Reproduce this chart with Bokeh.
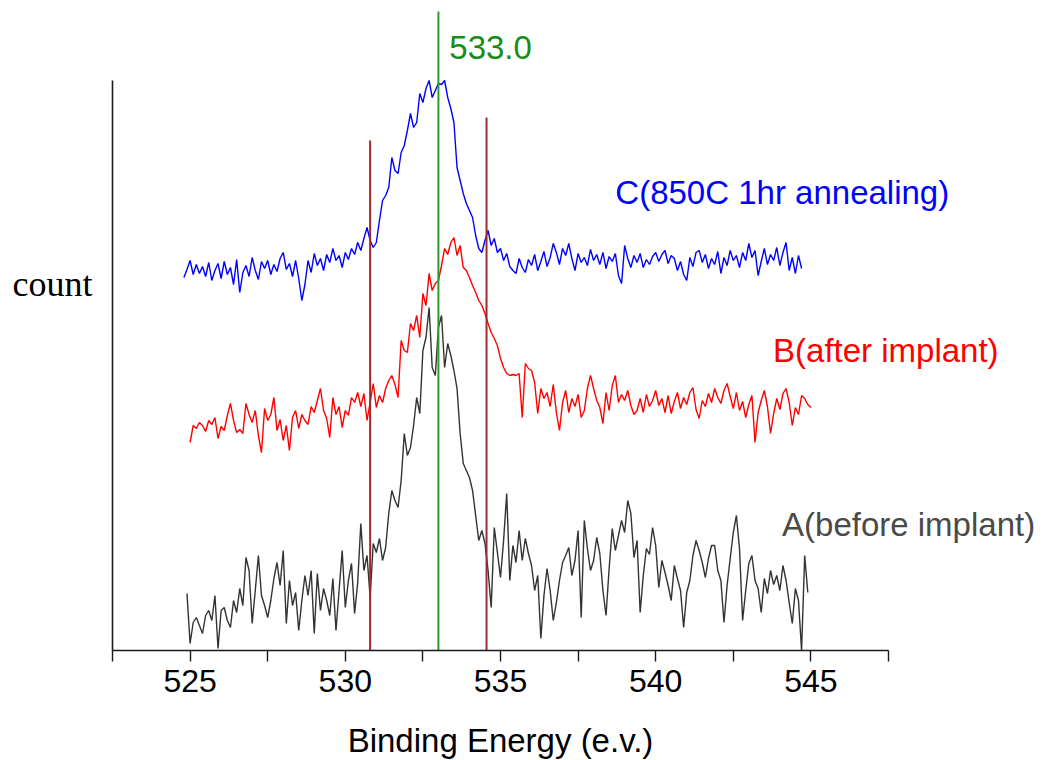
import numpy as np
from bokeh.plotting import figure
from bokeh.models import Range1d, FixedTicker, Label
from bokeh.embed import file_html
from bokeh.resources import INLINE

# O 1s spectra, stacked, intensity in arbitrary counts; 0.1 eV step
step = 0.1

# C: after 850C 1hr annealing (starts at 524.8 eV)
c_start = 524.8
c_counts = [
    373, 381, 390, 376, 386, 377, 384, 374, 388, 370,
    380, 387, 372, 389, 376, 383, 366, 391, 358, 378,
    385, 374, 393, 380, 371, 389, 382, 390, 376, 386,
    379, 392, 398, 381, 387, 374, 390, 372, 350, 366,
    390, 378, 397, 385, 392, 380, 396, 388, 402, 390,
    395, 383, 398, 391, 402, 396, 408, 400, 412, 423,
    410, 403, 408, 430, 450, 455, 463, 493, 480, 477,
    498, 505, 520, 537, 523, 528, 557, 548, 562, 570,
    553, 560, 567, 566, 570, 553, 542, 528, 483, 470,
    457, 447, 440, 433, 415, 402, 398, 410, 420, 405,
    412, 398, 402, 390, 397, 384, 380, 377, 392, 383,
    378, 391, 385, 396, 380, 389, 399, 384, 393, 407,
    398, 386, 402, 395, 407, 392, 380, 397, 388, 393,
    385, 401, 390, 396, 386, 398, 382, 394, 389, 397,
    375, 367, 405, 392, 383, 395, 388, 397, 383, 391,
    386, 394, 398, 389, 396, 400, 387, 395, 392, 380,
    389, 376, 370, 393, 384, 398, 400, 388, 396, 382,
    392, 386, 399, 377, 393, 385, 400, 390, 395, 383,
    398, 390, 407, 393, 400, 375, 389, 402, 386, 396,
    390, 403, 385, 398, 408, 380, 393, 377, 395, 382,
]

# B: after implant (starts at 525.0 eV)
b_start = 525.0
b_counts = [
    208, 225, 222, 228, 225, 219, 230, 226, 233, 212,
    224, 220, 235, 247, 230, 218, 221, 217, 247, 236,
    228, 240, 215, 198, 242, 230, 236, 253, 220, 231,
    210, 225, 200, 233, 240, 222, 236, 230, 226, 244,
    238, 250, 262, 240, 232, 213, 253, 236, 244, 223,
    240, 235, 253, 248, 258, 244, 257, 230, 248, 267,
    243, 255, 248, 262, 270, 275, 266, 253, 310, 300,
    298, 327, 320, 335, 313, 357, 345, 377, 360, 367,
    370, 385, 402, 396, 408, 413, 395, 405, 383, 380,
    373, 365, 358, 350, 345, 337, 327, 318, 312, 305,
    292, 283, 277, 275, 276, 275, 277, 233, 287, 282,
    280, 268, 237, 262, 252, 258, 244, 266, 238, 220,
    248, 260, 238, 252, 244, 256, 233, 240, 262, 275,
    262, 250, 243, 227, 258, 240, 265, 275, 248, 256,
    250, 260, 245, 236, 240, 252, 238, 256, 244, 250,
    260, 245, 252, 238, 255, 237, 249, 258, 242, 253,
    246, 258, 263, 241, 232, 250, 244, 257, 248, 262,
    253, 247, 260, 267, 254, 242, 258, 240, 249, 233,
    246, 255, 208, 238, 250, 260, 244, 217, 237, 252,
    241, 257, 262, 248, 225, 243, 236, 255, 252, 246,
    243,
]

# A: before implant (starts at 524.9 eV)
a_start = 524.9
a_counts = [
    57, 7, 28, 33, 25, 17, 35, 40, 30, 55,
    2, 40, 43, 30, 23, 50, 38, 62, 45, 93,
    80, 27, 60, 95, 55, 45, 33, 50, 72, 88,
    65, 100, 27, 70, 45, 58, 20, 50, 75, 55,
    80, 17, 77, 40, 62, 50, 35, 72, 20, 60,
    100, 43, 70, 87, 37, 68, 127, 80, 95, 53,
    107, 98, 112, 90, 103, 137, 160, 150, 143, 170,
    217, 195, 203, 225, 253, 237, 300, 313, 343, 283,
    275, 323, 335, 283, 307, 295, 280, 262, 217, 187,
    180, 173, 160, 135, 110, 120, 107, 80, 43, 123,
    98, 73, 110, 157, 70, 105, 88, 120, 90, 112,
    97, 85, 60, 75, 12, 55, 82, 60, 30, 48,
    70, 88, 95, 103, 75, 90, 120, 33, 130, 102,
    80, 90, 113, 97, 60, 35, 82, 122, 100, 115,
    130, 118, 150, 137, 93, 110, 38, 75, 102, 96,
    123, 105, 63, 90, 78, 65, 50, 85, 72, 60,
    23, 58, 70, 95, 110, 100, 88, 73, 92, 105,
    105, 80, 70, 28, 65, 92, 118, 135, 102, 30,
    60, 87, 95, 70, 62, 38, 72, 57, 80, 66,
    75, 60, 85, 70, 48, 27, 62, 50, 0, 95,
    58,
]

series_names = ["C(850C 1hr annealing)", "B(after implant)", "A(before implant)"]

# Reference lines: peak position and the integration window edges
peak_energy = 533.0
peak_label = "533.0"
window_edges = [530.8, 534.55]

# Axis ticks
major_ticks = [525, 530, 535, 540, 545]
minor_ticks = [522.5, 527.5, 532.5, 537.5, 542.5, 547.5]
x_title = "Binding Energy (e.v.)"
y_title = "count"


def energies(start, n):
    return np.round(start + step * np.arange(n), 2)


c_energy = energies(c_start, len(c_counts))
b_energy = energies(b_start, len(b_counts))
a_energy = energies(a_start, len(a_counts))

# the frame fills the whole canvas; both axes are pinned inside it
p = figure(
    width=1045, height=760,
    output_backend="svg", toolbar_location=None,
    x_range=Range1d(518.892, 552.558), y_range=Range1d(-110, 650),
    min_border_left=0, min_border_right=0, min_border_top=0, min_border_bottom=0,
    outline_line_color=None,
    background_fill_color="white", border_fill_color="white",
)
p.xgrid.visible = False
p.ygrid.visible = False

# x axis: ticks every 2.5 eV, labels every 5 eV
xa = p.xaxis[0]
xa.fixed_location = 0
xa.ticker = FixedTicker(ticks=major_ticks, minor_ticks=minor_ticks)
xa.bounds = (522.5, 547.5)
xa.axis_line_color = "#1a1a1a"
xa.axis_line_width = 1.6
xa.major_tick_in = 0
xa.major_tick_out = 11
xa.minor_tick_in = 0
xa.minor_tick_out = 11
xa.major_tick_line_color = "#1a1a1a"
xa.minor_tick_line_color = "#1a1a1a"
xa.major_tick_line_width = 1.4
xa.minor_tick_line_width = 1.4
xa.major_label_text_font = "Liberation Sans"
xa.major_label_text_font_size = "32px"
xa.major_label_text_color = "black"
xa.major_label_standoff = 8

# y axis: plain line, no ticks
ya = p.yaxis[0]
ya.fixed_location = 522.5
ya.bounds = (0, 570)
ya.ticker = FixedTicker(ticks=[])
ya.major_tick_out = 0
ya.major_tick_in = 0
ya.minor_tick_out = 0
ya.minor_tick_in = 0
ya.major_label_text_font_size = "0px"
ya.axis_line_color = "#1a1a1a"
ya.axis_line_width = 1.6

# spectra
p.line(c_energy, c_counts, line_color="#0000ff", line_width=1.4)
p.line(b_energy, b_counts, line_color="#ff0000", line_width=1.4)
p.line(a_energy, a_counts, line_color="#333333", line_width=1.4)

# vertical reference lines
p.segment(x0=window_edges, y0=[0, 0], x1=window_edges, y1=[510, 533],
          line_color="#a02a2a", line_width=2)
p.segment(x0=[peak_energy], y0=[0], x1=[peak_energy], y1=[639],
          line_color="#2a9d2a", line_width=2)

# text labels
label_font = "Liberation Sans"
p.add_layout(Label(x=533.35, y=603, text=peak_label, text_color="#1a8c1a",
                   text_font=label_font, text_font_size="33px",
                   text_baseline="alphabetic"))
p.add_layout(Label(x=538.70, y=458, text=series_names[0], text_color="#0000ff",
                   text_font=label_font, text_font_size="33px",
                   text_baseline="alphabetic"))
p.add_layout(Label(x=543.78, y=300, text=series_names[1], text_color="#ff0000",
                   text_font=label_font, text_font_size="33px",
                   text_baseline="alphabetic"))
p.add_layout(Label(x=544.07, y=126, text=series_names[2], text_color="#4a4a4a",
                   text_font=label_font, text_font_size="33px",
                   text_baseline="alphabetic"))
p.add_layout(Label(x=519.28, y=367, text=y_title, text_color="black",
                   text_font="Liberation Serif", text_font_size="36px",
                   text_baseline="alphabetic"))
# axis title centred under the axis span
p.add_layout(Label(x=535.0, y=-90, text=x_title, text_color="black",
                   text_font=label_font, text_font_size="33px",
                   text_align="center", text_baseline="alphabetic"))

open("out.html", "w").write(file_html(p, INLINE))
